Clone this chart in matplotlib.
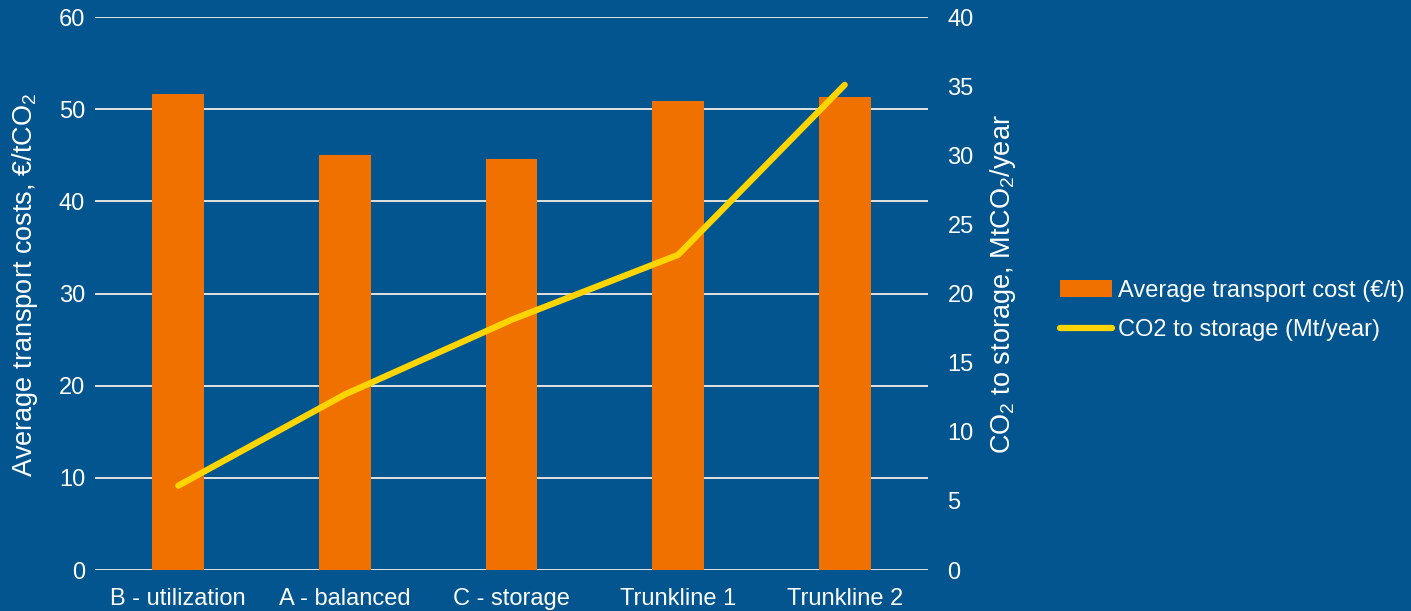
import matplotlib.pyplot as plt
import numpy as np

plt.rcParams['font.family'] = ['Liberation Sans', 'DejaVu Sans']
plt.rcParams['mathtext.fontset'] = 'custom'
plt.rcParams['mathtext.rm'] = 'Liberation Sans'
plt.rcParams['mathtext.default'] = 'rm'

categories = ['B - utilization', 'A - balanced', 'C - storage', 'Trunkline 1', 'Trunkline 2']
avg_cost = [51.7, 45.0, 44.6, 50.9, 51.3]          # €/t
co2_storage = [6.1, 12.7, 18.1, 22.8, 35.1]         # Mt/year

bg = '#02558F'
orange = '#F07000'
yellow = '#FFD500'
grid_c = '#F2EDE6'
fs = 17

fig = plt.figure(figsize=(14.11, 6.11), dpi=100, facecolor=bg)
ax = fig.add_axes([0.0673, 0.0671, 0.5904, 0.9049])
ax.set_facecolor(bg)
x = np.arange(len(categories))

ax.bar(x, avg_cost, width=0.31, color=orange, zorder=3, label='Average transport cost (€/t)')
ax.set_ylim(0, 60)
ax.set_yticks(range(0, 61, 10))
ax.set_xlim(-0.5, len(categories) - 0.5)
ax.set_xticks(x)
ax.set_xticklabels(categories)
ax.grid(axis='y', color=grid_c, linewidth=1.3, zorder=0)
ax.set_axisbelow(True)

ax2 = ax.twinx()
ax2.plot(x, co2_storage, color=yellow, linewidth=4.5, solid_capstyle='round', zorder=4,
         label='CO2 to storage (Mt/year)')
ax2.set_ylim(0, 40)
ax2.set_yticks(range(0, 41, 5))

for a in (ax, ax2):
    for s in a.spines.values():
        s.set_visible(False)
    a.tick_params(length=0, colors='white', labelsize=fs)
ax.tick_params(axis='y', pad=7)
ax.tick_params(axis='x', pad=13)
ax2.tick_params(axis='y', pad=14)

ax.set_ylabel('Average transport costs, €/tCO$_2$', color='white', fontsize=19.5)
ax2.set_ylabel('CO$_2$ to storage, MtCO$_2$/year', color='white', fontsize=19.5)
ax.yaxis.set_label_coords(-0.066, 0.515)
ax2.yaxis.set_label_coords(1.072, 0.517)

h1, l1 = ax.get_legend_handles_labels()
h2, l2 = ax2.get_legend_handles_labels()
leg = fig.legend(h1 + h2, l1 + l2, loc='center left', bbox_to_anchor=(0.7512, 0.492),
                 frameon=False, fontsize=fs, handlelength=2.2, handletextpad=0.25,
                 labelspacing=0.75, borderpad=0, borderaxespad=0)
for t in leg.get_texts():
    t.set_color('white')

fig.savefig('out.png', dpi=100, facecolor=bg)
